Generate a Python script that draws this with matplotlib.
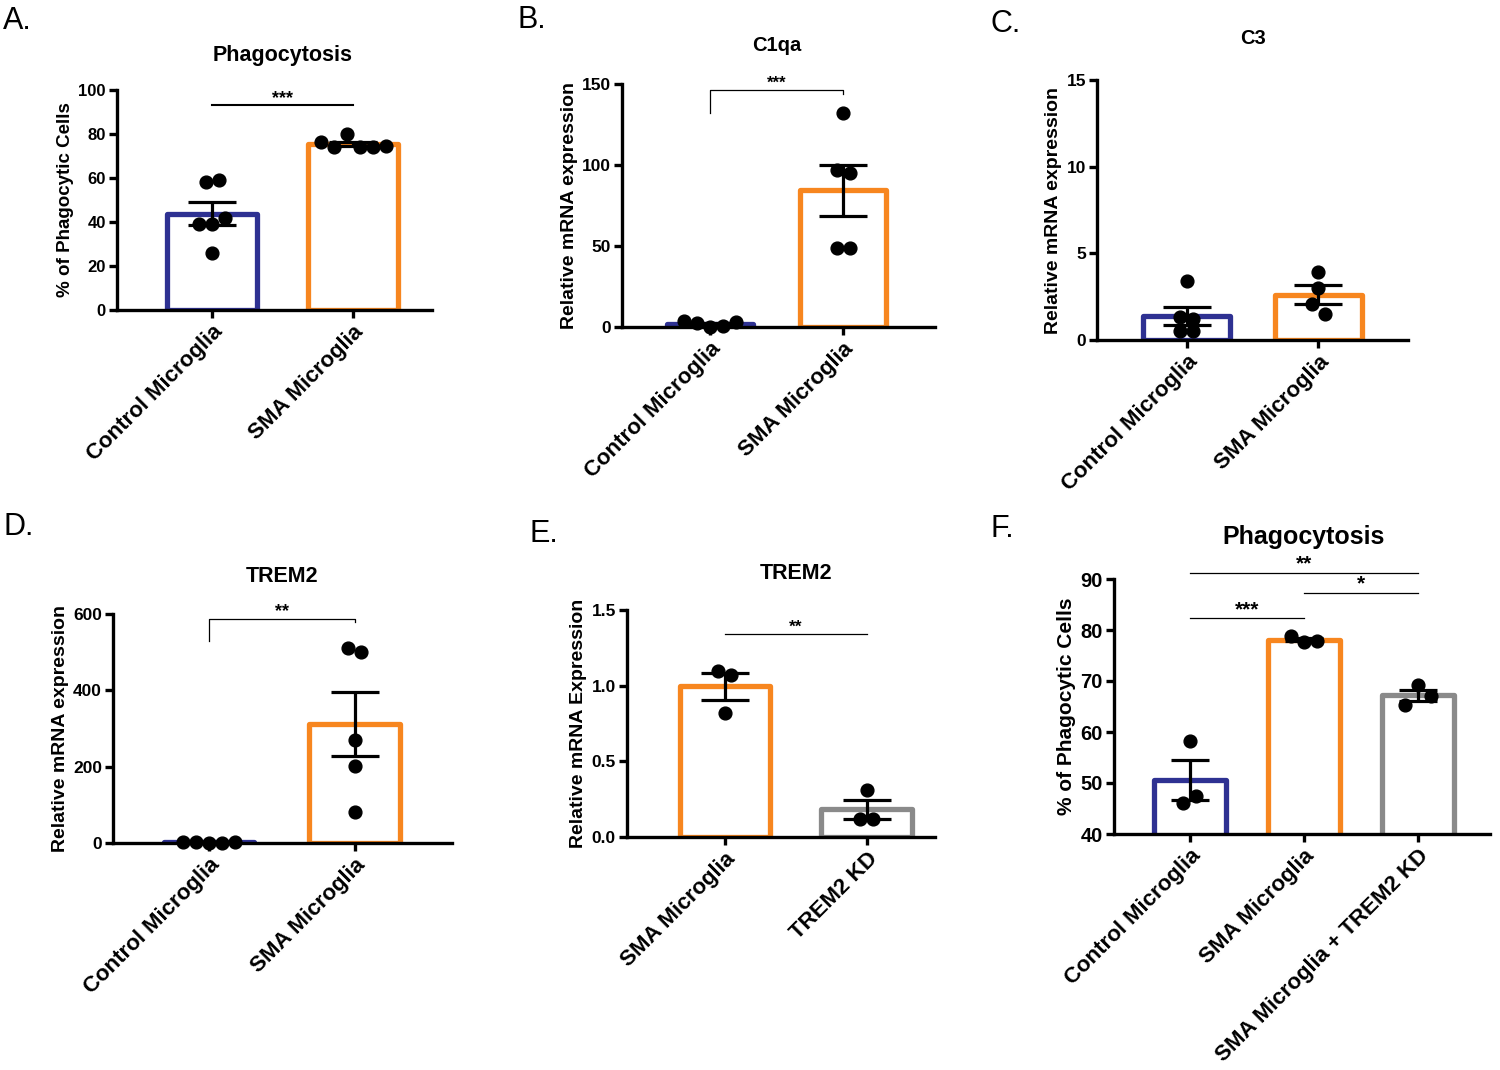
import numpy as np
import matplotlib
matplotlib.use('Agg')
import matplotlib.pyplot as plt

plt.rcParams['font.family'] = 'Liberation Sans'
plt.rcParams['font.weight'] = 'bold'
plt.rcParams['axes.labelweight'] = 'bold'

BLUE = '#2e3192'
ORANGE = '#f7861f'
GRAY = '#8a8a8a'

# A. Phagocytosis (% of phagocytic cells)
a_groups = ['Control Microglia', 'SMA Microglia']
a_control = [58, 59, 39, 39, 42, 26]
a_sma = [76.5, 74, 80, 74, 74, 74.5]

# B. C1qa relative mRNA expression
b_groups = ['Control Microglia', 'SMA Microglia']
b_control = [3.5, 2.3, 0.2, 0.5, 2.8]
b_sma = [132, 97, 95, 49, 49]

# C. C3 relative mRNA expression
c_groups = ['Control Microglia', 'SMA Microglia']
c_control = [3.4, 1.3, 1.2, 0.5, 0.5]
c_sma = [3.9, 3.0, 2.1, 1.5]

# D. TREM2 relative mRNA expression
d_groups = ['Control Microglia', 'SMA Microglia']
d_control = [3, 2, 0, 1, 2]
d_sma = [510, 500, 270, 202, 80]

# E. TREM2 knockdown
e_groups = ['SMA Microglia', 'TREM2 KD']
e_sma = [1.10, 1.07, 0.82]
e_kd = [0.31, 0.12, 0.12]

# F. Phagocytosis after TREM2 knockdown
f_groups = ['Control Microglia', 'SMA Microglia', 'SMA Microglia + TREM2 KD']
f_control = [58.3, 46.0, 47.5]
f_sma = [78.8, 77.7, 77.9]
f_kd = [65.3, 69.2, 67.1]

W, H = 1500, 1070
fig = plt.figure(figsize=(W / 100, H / 100), dpi=100)


def add_panel(left, right, top, bottom):
    return fig.add_axes([left / W, 1 - bottom / H, (right - left) / W, (bottom - top) / H])


def swarm_x(ax, xc, vals, step=13, thr=12):
    # spread dots that sit close together in y, GraphPad style
    tr = ax.transData
    ys = [tr.transform((xc, v))[1] for v in vals]
    order = sorted(range(len(vals)), key=lambda i: ys[i])
    clusters = [[order[0]]]
    for i in order[1:]:
        if ys[i] - ys[clusters[-1][-1]] < thr:
            clusters[-1].append(i)
        else:
            clusters.append([i])
    px_per_unit = tr.transform((1, 0))[0] - tr.transform((0, 0))[0]
    xs = [xc] * len(vals)
    for cl in clusters:
        cl = sorted(cl)
        n = len(cl)
        for k, i in enumerate(cl):
            xs[i] = xc + (k - (n - 1) / 2) * step / px_per_unit
    return xs


def draw_panel(ax, groups, values, colors, ylim, yticks, xlim, title, title_off,
               title_fs, ylabel, width=0.64, capsize=17, tick_fs=12.5, label_fs=14,
               xlab_fs=16, yfmt=None):
    x = np.arange(len(groups))
    means = [np.mean(v) for v in values]
    sems = [np.std(v, ddof=1) / np.sqrt(len(v)) for v in values]
    ax.set_xlim(xlim)
    ax.set_ylim(ylim)
    ax.bar(x, means, width=width, color='white', edgecolor=colors, linewidth=3.8,
           joinstyle='round', zorder=2)
    ax.errorbar(x, means, yerr=sems, fmt='none', ecolor='black', elinewidth=2.3,
                capsize=capsize, capthick=2.3, zorder=3)
    for i, v in enumerate(values):
        ax.plot(swarm_x(ax, i, v), v, 'o', color='black', ms=9.2, zorder=4, clip_on=False)

    for side in ['top', 'right']:
        ax.spines[side].set_visible(False)
    for side in ['left', 'bottom']:
        ax.spines[side].set_linewidth(2.4)
    ax.tick_params(width=2.4, length=6, labelsize=tick_fs, pad=2)
    ax.set_yticks(yticks)
    if yfmt:
        ax.set_yticklabels([yfmt.format(t) for t in yticks])
    ax.set_xticks(x)
    ax.set_xticklabels(groups, rotation=45, ha='right', rotation_mode='anchor',
                       fontsize=xlab_fs)
    ax.set_ylabel(ylabel, fontsize=label_fs, labelpad=3)
    ax.annotate(title, xy=((len(groups) - 1) / 2, 1), xycoords=('data', 'axes fraction'),
                xytext=(0, title_off), textcoords='offset points', ha='center',
                va='center', fontsize=title_fs, fontweight='bold')


def sig(ax, x0, x1, y, text, fs=12, lw=0.9, legs=None, ty=None):
    if legs:
        ax.plot([x0, x0, x1, x1], [legs[0], y, y, legs[1]], color='black', lw=lw,
                clip_on=False)
    else:
        ax.plot([x0, x1], [y, y], color='black', lw=lw, clip_on=False)
    ax.text((x0 + x1) / 2, ty, text, ha='center', va='center', fontsize=fs,
            fontweight='bold')


# A
ax = add_panel(117, 432, 90, 310)
draw_panel(ax, a_groups, [a_control, a_sma], [BLUE, ORANGE], (0, 100),
           [0, 20, 40, 60, 80, 100], (-0.674, 1.56), 'Phagocytosis', 25, 15.5,
           '% of Phagocytic Cells', width=0.64, tick_fs=12, label_fs=13.5)
sig(ax, 0, 1, 93.2, '***', fs=13, lw=1.5, ty=96.0)

# B
ax = add_panel(622, 935, 84, 327)
draw_panel(ax, b_groups, [b_control, b_sma], [BLUE, ORANGE], (0, 150),
           [0, 50, 100, 150], (-0.66, 1.69), 'C1qa', 28, 14.5,
           'Relative mRNA expression', width=0.64)
sig(ax, 0, 1, 146.3, '***', fs=12, legs=(132, 143.6), ty=150.5)

# C
ax = add_panel(1097, 1408, 80, 340)
draw_panel(ax, c_groups, [c_control, c_sma], [BLUE, ORANGE], (0, 15),
           [0, 5, 10, 15], (-0.68, 1.68), 'C3', 30, 14.5,
           'Relative mRNA expression', width=0.66)

# D
ax = add_panel(113, 452, 614, 843)
draw_panel(ax, d_groups, [d_control, d_sma], [BLUE, ORANGE], (0, 600),
           [0, 200, 400, 600], (-0.66, 1.67), 'TREM2', 27, 15.5,
           'Relative mRNA expression', width=0.62)
sig(ax, 0, 1, 587, '**', fs=13, legs=(530, 578), ty=605)

# E
ax = add_panel(627, 935, 610, 837)
draw_panel(ax, e_groups, [e_sma, e_kd], [ORANGE, GRAY], (0, 1.5),
           [0, 0.5, 1.0, 1.5], (-0.69, 1.48), 'TREM2', 26, 15.5,
           'Relative mRNA Expression', width=0.64, yfmt='{:.1f}')
sig(ax, 0, 1, 1.34, '**', fs=12.5, ty=1.385)

# F
ax = add_panel(1114, 1490, 579, 834)
draw_panel(ax, f_groups, [f_control, f_sma, f_kd], [BLUE, ORANGE, GRAY], (40, 90),
           [40, 50, 60, 70, 80, 90], (-0.665, 2.63), 'Phagocytosis', 30, 18,
           '% of Phagocytic Cells', width=0.63, capsize=14, tick_fs=14.5, label_fs=15)
sig(ax, 0, 2, 91.2, '**', fs=15, ty=92.9)
sig(ax, 1, 2, 87.3, '*', fs=15, ty=89.0)
sig(ax, 0, 1, 82.3, '***', fs=15, ty=83.9)

# panel letters
for txt, px, py in [('A.', 3, 6), ('B.', 517, 5), ('C.', 990, 9),
                    ('D.', 3, 512), ('E.', 530, 519), ('F.', 991, 514)]:
    fig.text(px / W, 1 - py / H, txt, ha='left', va='top', fontsize=22,
             fontweight='normal')

fig.savefig('out.png', dpi=100)
